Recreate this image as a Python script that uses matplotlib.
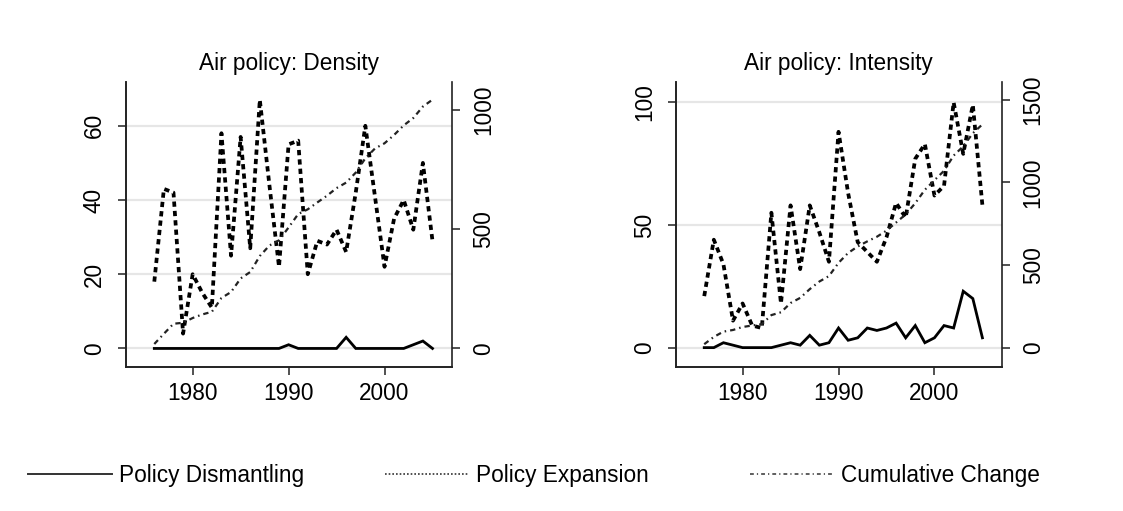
import matplotlib
matplotlib.use("Agg")
import matplotlib.pyplot as plt
from matplotlib.lines import Line2D
import numpy as np

plt.rcParams['font.family'] = ['Liberation Sans', 'DejaVu Sans']

years = list(range(1976, 2006))

# Air policy: Density
dens_expansion = [18, 43, 42, 4, 20, 15, 11, 58, 25, 57, 27, 67, 44, 22, 55,
                  56, 20, 29, 28, 32, 26, 42, 60, 41, 22, 35, 40, 32, 50, 29]
dens_dismantling = [0, 0, 0, 0, 0, 0, 0, 0, 0, 0, 0, 0, 0, 0, 1,
                    0, 0, 0, 0, 0, 3, 0, 0, 0, 0, 0, 0, 1, 2, 0]
dens_cumulative = [18, 61, 103, 107, 127, 142, 153, 211, 236, 293, 320, 387, 431, 453, 507,
                   563, 583, 612, 640, 672, 695, 737, 797, 838, 860, 895, 935, 966, 1014, 1043]

# Air policy: Intensity
int_expansion = [21, 44, 34, 11, 18, 9, 8, 55, 18, 58, 32, 58, 47, 35, 88,
                 63, 43, 39, 35, 45, 59, 53, 77, 83, 62, 66, 100, 79, 99, 58]
int_dismantling = [0, 0, 2, 1, 0, 0, 0, 0, 1, 2, 1, 5, 1, 2, 8,
                   3, 4, 8, 7, 8, 10, 4, 9, 2, 4, 9, 8, 23, 20, 4]
int_cumulative = [21, 65, 97, 107, 125, 134, 142, 197, 214, 270, 301, 354, 400, 433, 513,
                  573, 612, 643, 671, 708, 757, 806, 874, 955, 1013, 1070, 1162, 1218, 1297, 1351]

panels = [
    ("Air policy: Density", dens_dismantling, dens_expansion, dens_cumulative,
     [0, 20, 40, 60], (-5.0, 71.8), [0, 500, 1000], (-78.5, 1117), 0.1122),
    ("Air policy: Intensity", int_dismantling, int_expansion, int_cumulative,
     [0, 50, 100], (-7.9, 108.3), [0, 500, 1000, 1500], (-117, 1607), 0.6019),
]

fs = 16.3
fig = plt.figure(figsize=(11.23, 5.11), dpi=100)

for title, dis, exp_, cum, lticks, llim, rticks, rlim, left in panels:
    ax = fig.add_axes([left, 0.2818, 0.2900, 0.5577])
    ax2 = ax.twinx()
    for t in lticks:
        ax.axhline(t, color='#e6e6e6', lw=1.6, zorder=0)
    ax.plot(years, dis, color='black', lw=2.0, solid_joinstyle='miter')
    ax.plot(years, exp_, color='black', lw=2.7, linestyle=(0, (1.4, 1.1)))
    ax2.plot(years, cum, color='#222222', lw=1.6, linestyle=(0, (2.4, 1.8, 0.7, 1.8)))

    ax.set_xlim(1973.05, 2007.0)
    ax.set_ylim(*llim)
    ax2.set_ylim(*rlim)
    ax.set_xticks([1980, 1990, 2000])
    ax.set_yticks(lticks)
    ax2.set_yticks(rticks)

    for a in (ax, ax2):
        a.spines['top'].set_visible(False)
        for s in a.spines.values():
            s.set_linewidth(1.2)
            s.set_color('#222222')
        a.tick_params(length=5.5, width=1.1, color='#222222', labelsize=fs)
    ax.spines['right'].set_visible(False)
    ax.tick_params(axis='x', pad=5)
    ax.tick_params(axis='y', pad=9)
    ax2.tick_params(axis='y', pad=9)
    for lab in ax.get_yticklabels() + ax2.get_yticklabels():
        lab.set_rotation(90)
        lab.set_va('center')
    ax.set_title(title, fontsize=fs, pad=9)

handles = [
    Line2D([], [], color='#333333', lw=1.4),
    Line2D([], [], color='#333333', lw=1.2, linestyle=(0, (1.0, 1.2))),
    Line2D([], [], color='#333333', lw=1.1, linestyle=(0, (2.5, 2.0, 0.8, 2.0))),
]
labels = ["Policy Dismantling", "Policy Expansion", "Cumulative Change"]
xstarts = [28, 385, 750]
for h, lab, xs in zip(handles, labels, xstarts):
    fig.legend([h], [lab], loc='center left', bbox_to_anchor=(xs / 1123, 1 - 475 / 511),
               frameon=False, fontsize=fs, handlelength=3.7, handletextpad=0.3,
               borderpad=0, borderaxespad=0)

fig.savefig("out.png", dpi=100)
